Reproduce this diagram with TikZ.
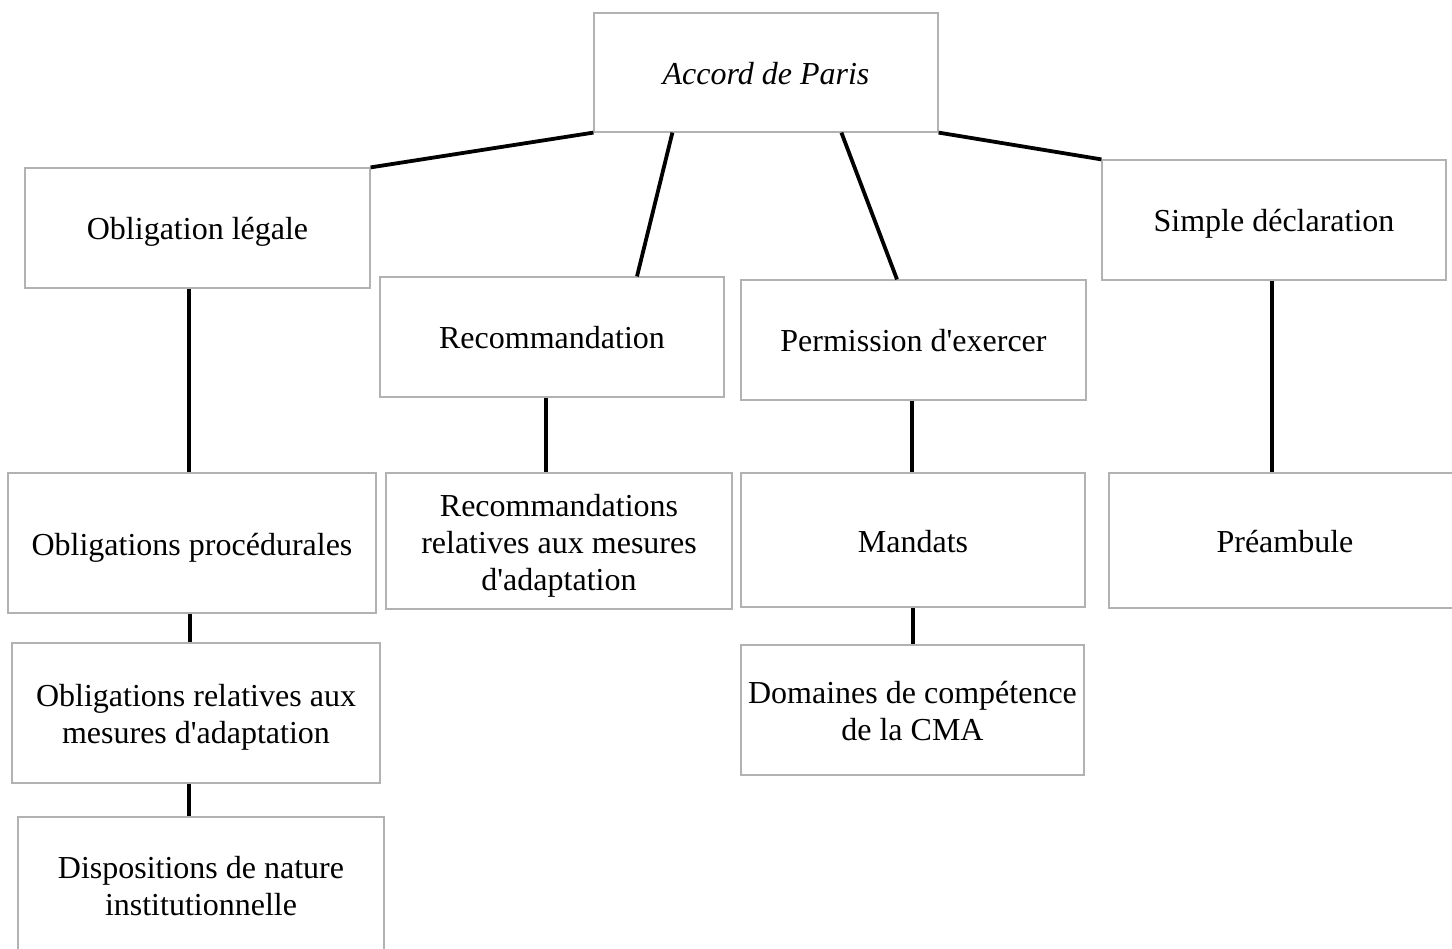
\documentclass[tikz,border=0pt]{standalone}
\usepackage{fontspec}
\setmainfont{Liberation Serif}
\usetikzlibrary{calc}
\newcommand\tp{\rule{0pt}{32pt}}
\newcommand\bt{\rule[-8pt]{0pt}{8pt}}
\newcommand\ap{\textquotesingle}
\tikzset{
  box/.style={draw=black!30, line width=1.2pt, fill=white, inner sep=0pt, align=center,
    font=\fontsize{32}{37}\selectfont},
  link/.style={line width=3.8pt, black}
}
\begin{document}
\begin{tikzpicture}[x=1pt,y=-1pt]
\useasboundingbox (0,0) rectangle (1452,949);
\clip (0,0) rectangle (1452,949);
\fill[white] (0,0) rectangle (1452,949);
\node[box, minimum width=344pt, minimum height=119pt] (accord) at (766,72.5) {\tp\itshape Accord de Paris\bt};
\node[box, minimum width=345pt, minimum height=120pt] (ol) at (197.5,228) {\tp Obligation légale\bt};
\node[box, minimum width=344pt, minimum height=120pt] (rec) at (552,337) {\tp Recommandation\bt};
\node[box, minimum width=345pt, minimum height=120pt] (perm) at (913.5,340) {\tp Permission d\ap exercer\bt};
\node[box, minimum width=344pt, minimum height=120pt] (simple) at (1274,220) {\tp Simple déclaration\bt};
\node[box, minimum width=368pt, minimum height=140pt] (proc) at (192,543) {\tp Obligations procédurales\bt};
\node[box, minimum width=346pt, minimum height=136pt] (recrel) at (559,541) {\tp Recommandations\\relatives aux mesures\\d\ap adaptation\bt};
\node[box, minimum width=344pt, minimum height=134pt] (mand) at (913,540) {\tp Mandats\bt};
\node[box, minimum width=352pt, minimum height=135pt] (pre) at (1285,540.5) {\tp Préambule\bt};
\node[box, minimum width=368pt, minimum height=140pt] (rel) at (196,713) {\tp Obligations relatives aux\\mesures d\ap adaptation\bt};
\node[box, minimum width=366pt, minimum height=135pt] (disp) at (201,884.5) {\tp Dispositions de nature\\institutionnelle\bt};
\node[box, minimum width=343pt, minimum height=130pt] (dom) at (912.5,710) {\tp Domaines de compétence\\de la CMA\bt};
% connectors
\draw[link] (accord.south west) -- (ol.north east);
\draw[link] ([xshift=79pt]accord.south west) -- ([xshift=85pt]rec.north);
\draw[link] ([xshift=248pt]accord.south west) -- ([xshift=-16.5pt]perm.north);
\draw[link] (accord.south east) -- (simple.north west);
\draw[link] ([xshift=-8.5pt]ol.south) -- ([xshift=-3pt]proc.north);
\draw[link] ([xshift=-6pt]rec.south) -- ([xshift=-13pt]recrel.north);
\draw[link] ([xshift=-1.5pt]perm.south) -- ([xshift=-1pt]mand.north);
\draw[link] ([xshift=-2pt]simple.south) -- ([xshift=-13pt]pre.north);
\draw[link] ([xshift=-2pt]proc.south) -- ([xshift=-6pt]rel.north);
\draw[link] ([xshift=-7pt]rel.south) -- ([xshift=-12pt]disp.north);
\draw[link] (mand.south) -- ([xshift=0.5pt]dom.north);
\end{tikzpicture}
\end{document}
